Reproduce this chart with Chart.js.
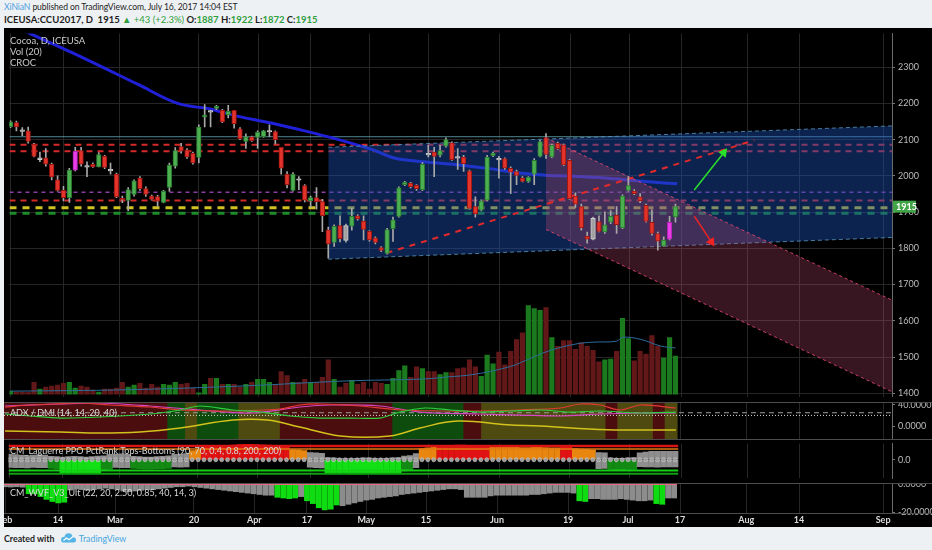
<!DOCTYPE html>
<html>
<head>
<meta charset="utf-8">
<script src="https://cdn.jsdelivr.net/npm/chart.js@4.4.1/dist/chart.umd.min.js"></script>
<style>
html,body{margin:0;padding:0}
body{width:932px;height:550px;overflow:hidden;position:relative;background:#eef1f4;font-family:Lato,"Noto Sans",sans-serif}
#bg{position:absolute;left:4px;top:28px;width:928px;height:499px;background:#000}
canvas{position:absolute;left:4px}
#cMain{top:28px}
#cAdx{top:402px}
#cLag{top:439px}
#cWvf{top:483px}
.sep{position:absolute;left:4px;width:928px;height:1px;background:#4c4c4c}
.lbl{position:absolute;left:10px;color:#cacaca;font-size:9.5px;white-space:nowrap;line-height:11px}
.pt{position:absolute;left:10px;color:#d8d8d8;font-size:9px;white-space:nowrap;line-height:10px}
.hd{position:absolute;left:4px;font-size:9.5px;color:#1e1e1e;white-space:nowrap;line-height:12px}
.gr{color:#2e9e3e}
</style>
</head>
<body>
<div class="hd" id="h1" style="top:1px;font-size:8.6px;letter-spacing:-0.1px"><span style="color:#4e9fe0">XiNiaN</span> published on TradingView.com, July 16, 2017 14:04 EST</div>
<div class="hd" id="h2" style="top:14px;font-weight:bold"></div>
<div id="bg"></div>
<canvas id="cMain" width="928" height="374"></canvas>
<canvas id="cAdx" width="928" height="37"></canvas>
<canvas id="cLag" width="928" height="44"></canvas>
<canvas id="cWvf" width="928" height="44"></canvas>
<div class="sep" style="top:402px"></div>
<div class="sep" style="top:439px"></div>
<div class="sep" style="top:483px"></div>
<div class="sep" style="top:513px"></div>
<div class="lbl" style="top:35px">Cocoa, D, ICEUSA</div>
<div class="lbl" style="top:46px">Vol (20)</div>
<div class="lbl" style="top:57px">CROC</div>
<div class="pt" style="top:408px">ADX / DMI (14, 14, 20, 40)</div>
<div class="pt" style="top:446px">CM_Laguerre PPO PctRank Tops-Bottoms (90, 70, 0.4, 0.8, 200, 200)</div>
<div class="pt" style="top:488px">CM_WVF_V3_Ult (22, 20, 2.50, 0.85, 40, 14, 3)</div>
<div class="hd" style="top:532px;font-weight:bold;font-size:8.8px">Created with
<svg width="17" height="11" viewBox="0 0 17 11" style="vertical-align:-1px;margin-left:3px"><path d="M3 10.5 L13.5 10.5 Q16.5 10.5 16 7.5 Q15.5 5 12.8 5.2 Q12 1 8.2 1.3 Q5 1.6 4.6 4.8 Q1 5 1 7.8 Q1.2 10.5 3 10.5 Z" fill="#55b4e6"/><path d="M3.5 8.5 L6.5 6 L9 7.8 L13 4.5" stroke="#fff" stroke-width="1.2" fill="none"/></svg>
<span style="color:#45a6dc;font-weight:normal">TradingView</span></div>
<script>
const FONT = 'Lato, "Noto Sans", sans-serif';
Chart.defaults.font.family = FONT;

// ---------- time axis (bar index positions) ----------
const tickIdx    = [0, 8.95, 18.6, 31.9, 42.1, 51.0, 61.0, 71.1, 83.1, 95.1, 105.2, 114.0, 125.2, 134.1, 148.3];
const tickLabels = ['Feb','14','Mar','20','Apr','17','May','15','Jun','19','Jul','17','Aug','14','Sep'];
const X_MIN = -0.17, X_MAX = 149.8;

// ---------- daily candles ----------
const opens = [2136,2147,2126,2124,2088,2045,2050,2032,1989,1960,1940,2016,2070,2026,2032,2025,2054,2016,2005,1938,
1932,1949,1994,1965,1944,1943,1927,1968,2027,2081,2072,2062,2051,2162,2178,2186,2181,2168,2181,2130,
2095,2108,2106,2108,2121,2122,2079,2005,1960,1990,1973,1931,1940,1929,1851,1816,1863,1863,1861,1890,
1875,1847,1829,1802,1786,1854,1888,1976,1980,1974,1962,2060,2066,2057,2082,2091,2051,2052,2014,1915,
1905,1933,2056,2046,2048,2021,2012,1994,1985,2005,2054,2106,2052,2090,2086,2043,1944,1915,1834,1883,
1874,1845,1872,1892,1856,1960,1958,1942,1919,1872,1841,1806,1825,1887];
const highs = [2152,2151,2133,2135,2090,2066,2075,2035,2000,1971,2021,2079,2079,2039,2036,2064,2057,2035,2008,1944,
1968,1989,1998,1970,1947,1946,1960,2035,2078,2090,2075,2066,2141,2197,2181,2195,2184,2195,2181,2133,
2116,2110,2124,2126,2141,2124,2079,2012,2009,1998,1976,1944,1968,1935,1859,1865,1890,1867,1911,1893,
1890,1849,1832,1805,1855,1886,1970,1985,1982,1976,2037,2084,2079,2084,2105,2094,2075,2057,2016,1942,
1934,2057,2066,2054,2050,2025,2016,1998,1998,2048,2099,2117,2088,2093,2088,2046,1953,1922,1845,1886,
1890,1901,1904,1915,1948,1998,1962,1951,1922,1906,1845,1832,1888,1922];
const lows = [2133,2124,2111,2090,2052,2039,2027,1989,1958,1931,1927,2014,2027,1998,2023,2025,2020,2005,1940,1926,
1904,1944,1960,1943,1933,1916,1925,1957,2021,2063,2048,2032,2036,2135,2135,2183,2147,2160,2132,2100,
2076,2095,2076,2106,2108,2088,2005,1967,1958,1962,1928,1913,1908,1846,1773,1805,1818,1817,1850,1878,
1823,1820,1812,1791,1784,1819,1886,1973,1967,1960,1959,2052,1998,2052,2079,2043,2018,2012,1908,1886,
1903,1931,2053,1994,2018,1951,1976,1983,1982,1976,2052,2048,2050,2073,2028,1935,1913,1850,1814,1823,
1845,1841,1868,1841,1854,1958,1948,1926,1872,1836,1795,1805,1823,1872];
const closes = [2149,2135,2123,2095,2054,2050,2032,1997,1960,1940,2016,2068,2032,2024,2025,2059,2023,2014,1942,1933,
1962,1986,1965,1949,1935,1930,1957,2030,2070,2068,2052,2036,2135,2168,2176,2192,2149,2178,2144,2103,
2108,2097,2120,2124,2123,2100,2021,1976,2005,1988,1933,1940,1929,1890,1812,1861,1827,1822,1888,1881,
1852,1823,1816,1794,1852,1879,1967,1982,1970,1965,2032,2058,2054,2070,2100,2045,2049,2034,1910,1895,
1931,2052,2063,2044,2021,2010,2001,1985,1996,2043,2095,2059,2084,2075,2030,1937,1922,1856,1825,1825,
1847,1865,1888,1865,1944,1973,1951,1931,1874,1841,1820,1823,1872,1915];
const magentaBars = [11, 112];
const greyBars = [2, 5, 13, 17, 34, 44, 49, 57, 71, 76, 83, 99];

// ---------- volume (contracts) and its 20-day average ----------
const volumes = [1600,1200,1200,1200,5200,2400,3200,3600,4000,4800,5200,2800,3600,3200,2000,1200,2400,2400,2800,5200,
3200,4000,4800,2800,4400,3200,4400,4000,5200,4400,4800,2800,800,4400,6800,6800,4400,4400,4400,3200,
4400,5200,6400,6400,5200,4000,9600,8000,5200,5200,6400,5200,5200,7200,14400,6400,3200,4800,6000,4400,
5200,2400,5200,4800,4400,6800,10000,12000,7200,11600,10800,9600,9600,8400,9200,9200,10800,11200,14400,11600,
7600,16400,12800,17600,12400,18000,22800,25600,36800,35600,34800,36000,23600,20000,22400,22400,18800,21600,20000,18400,
13600,14400,14800,18000,31600,23200,14000,18000,16800,24400,20000,15200,23600,16000];
const volMA = [[0,1400],[20,2000],[40,3600],[57,5600],[70,6400],[74,7200],[79,8400],[85,11600],[87.5,14000],
[91.5,18000],[96,20800],[99,21600],[103,22000],[104,23600],[107,22800],[110.5,20000],[113,19200]];

// ---------- moving average ----------
const sma = [[0,2418],[3.7,2390],[12.7,2323],[21.6,2253],[28.4,2200],[34.1,2184],[38.5,2165],[44.3,2146],[49.8,2125],
[54.9,2104],[61.7,2071],[65,2050],[70.1,2039],[75.7,2031],[81.4,2020],[87,2007],[90.9,2002],[95.4,1999],[101,1994],
[106.8,1986],[113.3,1978]];

// ---------- drawings ----------
const levelPrices = [2108, 2086, 2068, 1955, 1932, 1912, 1897];
const blueTop = [[54,2079],[149.8,2138]];
const blueBot = [[54,1770],[149.8,1830]];
const pinkTop = [[91,2105],[149.8,1657]];
const pinkBot = [[91,1852],[149.8,1404]];
const trendLine = [[63.9,1787],[126.4,2098]];
const upArrow = [[116.2,1961],[121.2,2064]];
const downArrow = [[116.2,1889],[119.1,1818]];
const priceTicks = [1400,1500,1600,1700,1800,1900,2000,2100,2200,2300];

// ---------- ADX / DMI ----------
const adxBands = [[0,27,'R'],[28,30,'G'],[31,32,'O'],[33,39,'G'],[40,46,'O'],[47,65,'R'],[66,77,'G'],[78,80,'R'],
[81,101,'O'],[102,103,'R'],[104,109,'O'],[110,111,'R'],[112,113,'O']];
const adxLine = [[0,-9],[9.3,-11],[16,-13],[22.8,-11],[29.6,-3.5],[38.5,11.4],[44.3,11.4],[49.8,-1.6],[56.6,-18.4],
[65,-18.4],[70.1,-3.5],[76.4,9.5],[84.8,2.6],[90.4,0.2],[101.7,-6.7],[113.3,-7.2]];
const diPlus = [[0,22.6],[4.2,18.9],[9.3,15.1],[16,17],[24.5,22.6],[29.6,30.1],[32.9,37.5],[38.5,30.1],[43.1,26.3],
[48.1,18.9],[53.2,15.1],[58.3,15.1],[63.3,15.1],[66.7,26.3],[70.9,33.8],[75.2,30.1],[80.2,26.3],[85.3,28.2],
[90.4,30.1],[95.4,26.3],[100.5,28.2],[107.3,24.5],[113.3,26.3]];
const diMinus = [[0,35.7],[4.2,39.4],[8.4,41.3],[12.7,43.1],[17.7,39.4],[24.5,35.7],[29.6,30.1],[38,28.2],[46.5,31.9],
[49.8,39.4],[53.2,41.3],[60,37.5],[66.7,30.1],[73.5,28.2],[80.2,28.2],[87,30.1],[93.8,33.8],[97.1,41.3],
[100.5,39.4],[103.9,30.1],[107.3,39.4],[113.3,33.8]];
const dmiAux = [[0,37.5],[9.3,41.3],[16,43.1],[24.5,37.5],[32.9,30.1],[41.4,24.5],[49.8,35.7],[54.9,39.4],[63.3,37.5],
[70.1,26.3],[80.2,22.6],[87,20.7],[93.8,18.9],[100.5,22.6],[107.3,24.5],[113.3,24.5]];
const adxLevels = [25, 20];
const adxTicks = [40, 0];

// ---------- Laguerre PPO PctRank ----------
const lagHi = [35,33,30,28,30,32,30, 22,20,18,20,22,20,18,20,24,26, 35,37,38,36, 22,20,18,18,20,22,25, 35,37,40, 60,66,
80,84,88,91,94,96,98,100,100,99,97,95,92,88,84, 66,64,60, 47,45,42, 15,12,10,8,8,10,12,12,10,8,10,12,15, 24,28, 40,
72,78,80, 88,92,94,95,95,94,93,92,90, 84,82,81,80,80,79,79,80,80,79,78,78, 82,82, 72,70,67,64, 47,45,
12,10,10,12,15, 45,50,54,55,55,54,54];
const lagHiState = 'ggggggggggggggggggggggggggggggg' + 'oo' + 'rrrrrrrrrrrrrrr' + 'ooo' + 'gggggggggggggggggg' + 'g' +
  'ooo' + 'rrrrrrrrr' + 'oooooooooooo' + 'rr' + 'oooo' + 'gggggggggggggg';
const lagLo = [-50,-52,-51,-53,-50,-52,-51, -56,-60, -84,-86,-88,-88,-86,-85,-84, -64,-62, -50,-52,-51,
-56,-58,-60,-60,-58,-58,-56, -46,-48,-47, 0,0,0,0,0,0,0,0,0,0,0,0,0,0,0,0,0,0,0,0, -48,-51,-53,
-86,-88,-90,-91,-92,-92,-92,-91,-90,-90,-89,-88,-86, -72,-68, -51,
0,0,0,0,0,0,0,0,0,0,0,0,0,0,0,0,0,0,0,0,0,0,0,0,0,0,0,0,0,0, -58,-56, -62,-64,-64,-63,-62,
-45,-46,-47,-48,-47,-46,-46];
const lagLoState = 'ggggggg' + 'dd' + 'bbbbbbb' + 'dd' + 'ggg' + 'ddddddd' + 'ggg' + '--------------------' + 'ggg' +
  'bbbbbbbbbbbbb' + 'dd' + 'g' + '------------------------------' + 'gg' + 'ddddd' + 'ggggggg';
const lagLevels = [90, 70, -70, -90];

// ---------- Williams Vix Fix ----------
const wvf = [-2,-2.2,-2,-2.3, -7,-7, -9,-11,-12.5,-13.5,-13,
-4.3,-3.5,-4,-4.5,-4,-3.5,-3,-3.5,-4,-5,-5.5,-5,-4.5,-4,-4,-3.5,-3,-2.5,-2,-2,
-1.5,-2,-2.5,-3,-3.5,-4,-4.5,-5,-5.5,-6,-6.5,-7,-7.5,-8,-8, -9.5,-10,-10.5,-10, -9,
-12,-14,-17,-18.5,-18,-15,
-15.5,-14.5,-13.5,-12.5,-11.5,-11,-10,-9.5,-9,-8.5,-7.5,-7,-6.5,-6,-5.5,-5,-4.5,-4,-3.5,-3.5,-4,
-9.5,-9.5,-9.5,-9.5, -8.5,-8,-8,-8,-8,-8,-8,-7.5,-7.5,-7,-6.5, -6,-6,-6,-6.5, -12,-12.5,
-10.5,-10.5,-11,-11,-11,-10.5,-11,-11.5,-12,-12,-11.5, -14,-14.5, -10,-10];
const wvfState = 'gggg' + 'bb' + 'bbbbb' + 'ggggggggggggggggggggggggggggggggggg' + 'bbbb' + 'g' + 'bbbbbb' +
  'gggggggggggggggggggggggggggggggggggggggg' + 'bb' + 'ggggggggggg' + 'bb' + 'gg';

// ---------- header (built from the data) ----------
(function(){
  const n = closes.length - 1, ch = closes[n] - closes[n-1], pct = (ch / closes[n-1] * 100).toFixed(1);
  document.getElementById('h2').innerHTML = 'ICEUSA:CCU2017, D&nbsp;&nbsp;' + closes[n] +
    ' <span class="gr">&#9650;</span> <span class="gr" style="font-weight:normal">+' + ch + ' (+' + pct + '%)</span> ' +
    'O:<span class="gr">' + opens[n] + '</span> H:<span class="gr">' + highs[n] + '</span> L:<span class="gr">' + lows[n] +
    '</span> C:<span class="gr">' + closes[n] + '</span>';
})();

// ---------- helpers ----------
const pts = a => a.map(p => ({x: p[0], y: p[1]}));
const base = {responsive:false, animation:false, events:[], layout:{padding:0},
  plugins:{legend:{display:false}, tooltip:{enabled:false}}};
function xAxis(show){ return {
  type:'linear', min:X_MIN, max:X_MAX, offset:false,
  afterBuildTicks: s => { s.ticks = tickIdx.map(v => ({value:v})); },
  ticks:{display:show, autoSkip:false, maxRotation:0, minRotation:0, padding:2, color:'#dcdcdc',
    font:{size:9, weight:'bold'}, callback:(v,i) => tickLabels[i]},
  grid:{color:'#262626', drawTicks:false, offset:false},
  border:{display:false},
  afterFit: s => { s.height = show ? 14 : 0; s.paddingLeft = 0; s.paddingRight = 0; }
};}
function yAxis(min, max, ticks, fmt, gridCol){ return {
  type:'linear', position:'right', min, max,
  afterBuildTicks: s => { s.ticks = ticks.map(v => ({value:v})); },
  ticks:{autoSkip:false, padding:3, color:'#bcbcbc', font:{size:9}, callback: fmt},
  grid:{color:gridCol, tickColor:'#7a7a7a', tickLength:3},
  border:{display:true, color:'#6a6a6a'},
  afterFit: s => { s.width = 40; s.paddingTop = 0; s.paddingBottom = 0; }
};}
const hLine = (v, x0, x1, color, w, dash, order, axis) => ({type:'line', data:[{x:x0,y:v},{x:x1,y:v}], borderColor:color,
  borderWidth:w, borderDash:dash, pointRadius:0, order, yAxisID: axis || 'y'});

// ---------- main pane ----------
const isUp = i => closes[i] >= opens[i];
const bodyFill = opens.map((o,i) => magentaBars.includes(i) ? '#e83ee8' : greyBars.includes(i) ? '#a0a0a0' : isUp(i) ? '#4cb050' : '#e3342c');
const bodyLine = opens.map((o,i) => magentaBars.includes(i) ? '#b020b0' : greyBars.includes(i) ? '#d0d0d0' : isUp(i) ? '#2a7a2e' : '#9a1410');
const levelStyle = [['rgba(95,160,175,0.85)',1,[]],['#d42a2a',2,[6,5]],['#d42a2a',2,[6,5]],['#8a3fa6',1.5,[4,4]],
  ['#d42a2a',2,[6,5]],['#cfc323',3,[7,6]],['#1c8c2c',3,[7,6]]];

const mainDs = [
  {type:'bar', yAxisID:'yv', data: volumes.map((v,i) => ({x:i, y:v})), backgroundColor: volumes.map((v,i) => isUp(i) ? '#1b7a1d' : '#621818'),
    barPercentage:0.88, categoryPercentage:1, grouped:false, order:20},
  {type:'line', yAxisID:'yv', data: pts(volMA), borderColor:'#2d6d9a', borderWidth:1, pointRadius:0, tension:0.4, order:19},
  ...levelPrices.map((p,k) => hLine(p, X_MIN, X_MAX, levelStyle[k][0], levelStyle[k][1], levelStyle[k][2], 15)),
  {type:'line', data: pts(sma), borderColor:'#2020d8', borderWidth:3, pointRadius:0, tension:0.4, cubicInterpolationMode:'monotone', order:12},
  {type:'line', data: pts(blueTop), borderColor:'rgba(90,150,185,0.8)', borderWidth:1, borderDash:[4,3], pointRadius:0, order:11},
  {type:'line', data: pts(blueBot), borderColor:'rgba(90,150,185,0.8)', borderWidth:1, borderDash:[4,3], pointRadius:0, order:11,
    fill:'-1', backgroundColor:'rgba(30,80,180,0.44)'},
  {type:'line', data: pts(pinkTop), borderColor:'rgba(235,70,110,0.85)', borderWidth:1, borderDash:[3,3], pointRadius:0, order:10},
  {type:'line', data: pts(pinkBot), borderColor:'rgba(235,70,110,0.85)', borderWidth:1, borderDash:[3,3], pointRadius:0, order:10,
    fill:'-1', backgroundColor:'rgba(200,80,120,0.28)'},
  {type:'line', data: pts(trendLine), borderColor:'#e22a2a', borderWidth:2, borderDash:[6,6], pointRadius:0, order:8},
  {type:'bar', data: opens.map((o,i) => ({x:i, y:[lows[i], highs[i]]})), backgroundColor:'#a8a8a8', barThickness:1, grouped:false, order:3},
  {type:'bar', data: opens.map((o,i) => ({x:i, y:[o, closes[i]]})), backgroundColor: bodyFill, borderColor: bodyLine, borderWidth:1,
    borderSkipped:false, barThickness:4.6, minBarLength:1.5, grouped:false, order:2},
];
const arrowRot = c => { const s = c.chart.scales, d = c.dataset.data;
  const dx = s.x.getPixelForValue(d[1].x) - s.x.getPixelForValue(d[0].x);
  const dy = s.y.getPixelForValue(d[1].y) - s.y.getPixelForValue(d[0].y);
  return Math.atan2(dx, -dy) * 180 / Math.PI; };
[[upArrow,'#29e02a'],[downArrow,'#f02222']].forEach(([a,col]) => mainDs.push({type:'line', data: pts(a), borderColor:col, borderWidth:1.5,
  pointRadius:[0,4], pointStyle:'triangle', pointRotation: arrowRot, pointBackgroundColor:col, pointBorderColor:col, order:1}));

const PMIN = 1391, PMAX = 2393;
const lastPrice = {id:'lastPrice', afterDraw(chart){
  const c = chart.ctx, v = closes[closes.length-1], y = chart.scales.y.getPixelForValue(v), x = chart.chartArea.right + 1;
  c.save(); c.fillStyle = '#41a447'; c.fillRect(x, y - 6, 23, 12);
  c.fillStyle = '#ffffff'; c.font = 'bold 9px ' + FONT; c.textBaseline = 'middle'; c.fillText(String(v), x + 3, y + 0.5); c.restore(); }};

new Chart(document.getElementById('cMain'), {type:'bar', data:{datasets: mainDs},
  options:{...base, scales:{x: xAxis(false), y: yAxis(PMIN, PMAX, priceTicks, v => String(v), '#262626'),
    yv:{type:'linear', display:false, min:-800, max:148800}}}, plugins:[lastPrice]});

// ---------- ADX pane ----------
const ADX_MIN = -24, ADX_MAX = 45;
const bandColor = {R:'#4b0d0d', G:'#0e4c0e', O:'#4f4b10'};
const bandData = [], bandCols = [];
adxBands.forEach(([a,b,k]) => { for (let i = a; i <= b; i++) { bandData.push({x:i, y:[ADX_MIN, ADX_MAX]}); bandCols.push(bandColor[k]); } });
new Chart(document.getElementById('cAdx'), {type:'bar', data:{datasets:[
  {type:'bar', data: bandData, backgroundColor: bandCols, barThickness:6.3, grouped:false, order:9},
  hLine(adxLevels[0], X_MIN, X_MAX, '#9a9a9a', 1, [5,4], 5),
  hLine(adxLevels[1], X_MIN, X_MAX, '#d8d8d8', 1, [1,2], 5),
  {type:'line', data: pts(adxLine), borderColor:'#d2c21c', borderWidth:1.5, pointRadius:0, tension:0.4, order:2},
  {type:'line', data: pts(dmiAux), borderColor:'#d646c6', borderWidth:1.2, pointRadius:0, tension:0.3, order:3},
  {type:'line', data: pts(diPlus), borderColor:'#2ed040', borderWidth:1.2, pointRadius:0, tension:0.3, order:2},
  {type:'line', data: pts(diMinus), borderColor:'#e23a36', borderWidth:1.2, pointRadius:0, tension:0.3, order:2},
]}, options:{...base, scales:{x: xAxis(false), y: yAxis(ADX_MIN, ADX_MAX, adxTicks, v => v.toFixed(4), 'rgba(0,0,0,0)')}}});

// ---------- Laguerre pane ----------
const hiCol = {g:'#8e8e8e', o:'#e8860f', r:'#e01212'};
const loCol = {g:'#8e8e8e', d:'#128a14', b:'#12e014', '-':'rgba(0,0,0,0)'};
new Chart(document.getElementById('cLag'), {type:'bar', data:{datasets:[
  {type:'bar', data: lagHi.map((v,i) => ({x:i, y:[0, v]})), backgroundColor: lagHi.map((v,i) => hiCol[lagHiState[i]]), barThickness:5.6, grouped:false, order:9},
  {type:'bar', data: lagLo.map((v,i) => ({x:i, y:[v, 0]})), backgroundColor: lagLo.map((v,i) => loCol[lagLoState[i]]), barThickness:5.6, grouped:false, order:9},
  hLine(lagLevels[0], X_MIN, 113.5, '#d81414', 2.5, [], 4),
  hLine(lagLevels[1], X_MIN, 113.5, '#e07a10', 1.5, [], 4),
  hLine(lagLevels[2], X_MIN, 113.5, '#14d014', 2, [], 4),
  hLine(lagLevels[3], X_MIN, 113.5, '#0ea010', 2, [], 4),
  {type:'line', data: lagHi.map((v,i) => ({x:i, y:0})), showLine:false, pointRadius:2, pointBackgroundColor:'#9c9c9c',
    pointBorderColor:'#cfcfcf', pointBorderWidth:0.6, order:1},
]}, options:{...base, scales:{x: xAxis(false), y: yAxis(-121, 105, [0], v => v.toFixed(1), 'rgba(0,0,0,0)')}}});

// ---------- WVF pane (with time axis) ----------
const wvfCol = {g:'#8c8c8c', b:'#10dc12'};
new Chart(document.getElementById('cWvf'), {type:'bar', data:{datasets:[
  {type:'bar', data: wvf.map((v,i) => ({x:i, y:[v, 0]})), backgroundColor: wvf.map((v,i) => wvfCol[wvfState[i]]), barThickness:5.2, grouped:false, order:9},
  hLine(0, X_MIN, 113.5, '#ec6a80', 2, [], 2),
]}, options:{...base, scales:{x: xAxis(true), y: yAxis(-20.7, 0.7, [0, -20], v => v.toFixed(4), 'rgba(0,0,0,0)')}}});
</script>
</body>
</html>
